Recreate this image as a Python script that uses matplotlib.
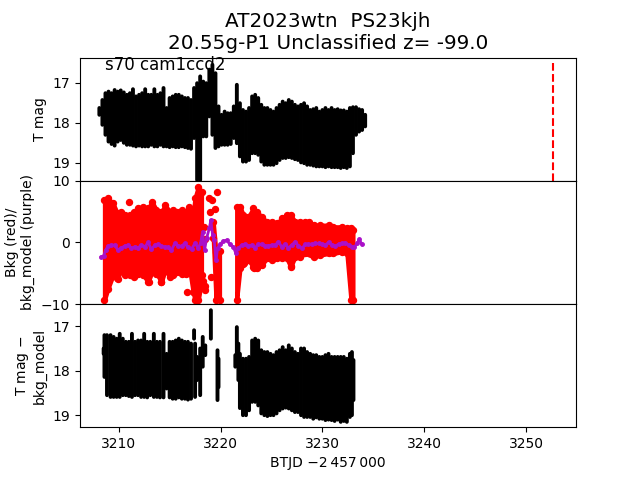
# plot.py
# Three stacked panels: T mag, background, background-subtracted T mag

import matplotlib
matplotlib.use('Agg')
import matplotlib.pyplot as plt
import numpy as np

# ── Top panel: T mag envelope per time step ────────────
t_mag = [3208.1, 3208.4, 3208.7, 3209.0, 3209.3, 3209.6, 3209.9, 3210.2, 3210.5, 3210.8,
         3211.1, 3211.4, 3211.7, 3212.0, 3212.3, 3212.6, 3212.9, 3213.2, 3213.5, 3213.8,
         3214.1, 3214.4, 3214.7, 3215.0, 3215.3, 3215.6, 3215.9, 3216.2, 3216.5, 3216.8,
         3217.1, 3217.4, 3217.7, 3218.0, 3218.3, 3218.6, 3218.9, 3219.2, 3219.5, 3219.8,
         3220.1, 3220.4, 3220.7, 3221.0, 3221.3, 3221.6, 3221.9, 3222.2, 3222.5, 3222.8,
         3223.1, 3223.4, 3223.7, 3224.0, 3224.3, 3224.6, 3224.9, 3225.2, 3225.5, 3225.8,
         3226.1, 3226.4, 3226.7, 3227.0, 3227.3, 3227.6, 3227.9, 3228.2, 3228.5, 3228.8,
         3229.1, 3229.4, 3229.7, 3230.0, 3230.3, 3230.6, 3230.9, 3231.2, 3231.5, 3231.8,
         3232.1, 3232.4, 3232.7, 3233.0, 3233.3, 3233.6, 3233.9, 3234.2]
mag_bright = [17.63, 17.43, 17.26, 17.22, 17.26, 17.18, 17.22, 17.19, 17.24, 17.30,
              17.26, 17.16, 17.34, 17.30, 17.26, 17.16, 17.30, 17.30, 17.16, 17.30,
              17.26, 17.13, 17.63, 17.38, 17.34, 17.30, 17.30, 17.34, 17.38, 17.38,
              17.43, 17.13, 17.01, 16.84, 16.97, 17.01, 16.67, 16.55, 16.76, 17.59,
              17.80, 17.72, 17.76, 17.76, 17.59, 17.05, 17.51, 17.68, 17.72, 17.63,
              17.34, 17.30, 17.38, 17.55, 17.63, 17.63, 17.68, 17.72, 17.63, 17.55,
              17.47, 17.51, 17.43, 17.47, 17.55, 17.59, 17.55, 17.51, 17.59, 17.68,
              17.66, 17.63, 17.72, 17.68, 17.63, 17.68, 17.63, 17.68, 17.66, 17.69,
              17.69, 17.72, 17.63, 17.61, 17.61, 17.66, 17.68, 17.80]
mag_faint = [17.80, 18.05, 18.30, 18.47, 18.53, 18.57, 18.47, 18.43, 18.50, 18.55,
             18.55, 18.57, 18.59, 18.57, 18.59, 18.59, 18.59, 18.55, 18.59, 18.59,
             18.55, 18.59, 18.59, 18.61, 18.59, 18.61, 18.61, 18.59, 18.61, 18.63,
             18.65, 18.38, 19.43, 19.43, 18.34, 18.34, 17.84, 18.30, 18.63, 18.59,
             18.55, 18.55, 18.55, 18.53, 18.38, 18.51, 18.84, 18.97, 18.97, 18.93,
             18.76, 18.76, 18.80, 18.97, 19.05, 19.05, 19.05, 19.05, 19.01, 18.93,
             18.88, 18.88, 18.86, 18.88, 18.91, 18.93, 18.99, 19.01, 19.05, 19.05,
             19.07, 19.09, 19.09, 19.09, 19.11, 19.09, 19.11, 19.11, 19.11, 19.13,
             19.11, 19.13, 19.09, 18.76, 18.30, 18.22, 18.18, 18.09]

# ── Middle panel: background envelope, outliers, model ─
t_bkg = [3208.6, 3208.95, 3209.45, 3209.87, 3210.26, 3210.65, 3211.08, 3211.47, 3211.9,
         3212.4, 3212.89, 3213.28, 3213.7, 3214.2, 3214.56, 3215.02, 3215.35, 3215.74,
         3216.17, 3216.6, 3216.92, 3217.3, 3217.48, 3217.81, 3218.13,
         3219.28, 3219.55, 3219.9,
         3221.58, 3221.91, 3222.24, 3222.73, 3223.22, 3223.55, 3224.04, 3224.53, 3225.02,
         3225.52, 3226.01, 3226.5, 3226.89, 3227.32, 3227.81, 3228.31, 3229.13, 3229.78,
         3230.6, 3231.09, 3231.91, 3232.4, 3232.8, 3233.0]
bkg_hi = [6.88, 7.15, 6.33, 4.71, 4.98, 4.44, 4.44, 4.98, 5.52, 5.79,
          5.52, 6.60, 5.25, 4.98, 6.06, 4.98, 5.25, 4.98, 5.25, 4.98,
          5.79, 4.44, 7.15, 9.05, 8.23,
          3.35, -1.50, -1.40,
          5.79, 5.79, 4.44, 4.17, 5.52, 4.98, 4.17, 3.35, 3.35,
          3.08, 3.90, 4.44, 4.44, 3.35, 3.35, 3.35, 2.81, 2.81,
          2.81, 2.54, 2.54, 2.27, 2.27, 2.00]
bkg_lo = [-9.38, -7.49, -5.32, -5.86, -4.50, -5.32, -5.32, -5.60, -5.05,
          -5.32, -6.40, -4.78, -5.05, -6.40, -4.50, -5.60, -5.32, -4.78,
          -5.05, -5.05, -3.96, -8.03, -9.38, -9.38, -6.40,
          0.65, -9.38, -9.38,
          -9.38, -4.23, -3.58, -2.88, -3.96, -4.23, -3.70, -2.60, -2.88,
          -2.60, -2.60, -2.60, -3.96, -2.34, -2.34, -1.80, -2.34, -2.07,
          -1.80, -1.80, -1.52, -1.80, -9.38, -9.38]
t_out = [3218.4, 3218.5, 3218.2, 3218.3, 3218.5, 3218.45, 3218.9, 3219.2, 3219.7, 3219.0, 3219.45, 3219.1,
         3222.3, 3223.3, 3226.9, 3228.7, 3216.7, 3214.2, 3213.0, 3209.9, 3211.06]
v_out = [2.5, 0.5, -5.3, -6.2, -7.0, -7.8, 7.15, 6.88, 8.23, 5.0, 5.5, -5.6,
         -3.4, -4.2, -3.9, 3.35, -8.0, -6.4, -6.4, -5.9, 6.6]

t_model = [3208.29, 3208.52, 3208.72, 3208.95, 3209.28, 3209.60, 3209.93, 3210.26, 3210.59, 3210.92,
           3211.25, 3211.57, 3211.90, 3212.23, 3212.56, 3212.89, 3213.21, 3213.54, 3213.87, 3214.20,
           3214.53, 3214.85, 3215.18, 3215.51, 3215.84, 3216.17, 3216.49, 3216.82, 3217.15, 3217.48,
           3217.81, 3218.04, 3218.23, 3218.43, 3218.63, 3218.89, 3219.05, 3219.22, 3219.38, 3219.55,
           3219.71, 3219.94, 3220.27, 3220.60, 3220.92, 3221.25, 3221.51, 3221.74, 3222.07, 3222.40,
           3222.73, 3223.06, 3223.38, 3223.71, 3224.04, 3224.37, 3224.70, 3225.02, 3225.35, 3225.68,
           3226.01, 3226.34, 3226.67, 3226.99, 3227.32, 3227.65, 3227.98, 3228.31, 3228.63, 3228.96,
           3229.29, 3229.62, 3229.95, 3230.27, 3230.60, 3230.93, 3231.26, 3231.59, 3231.91, 3232.24,
           3232.57, 3232.90, 3233.13, 3233.39, 3233.62, 3233.88]
v_model = [-2.34, -2.17, -1.25, -0.60, -0.44, -0.44, -1.25, -0.87, -0.60, -0.44,
           -0.98, -0.71, -0.87, -0.44, -0.71, -0.01, -1.14, -0.44, -0.28, -0.60,
           -0.71, -0.82, -1.25, -0.17, -0.60, -0.60, -0.17, -0.82, -1.09, -0.17,
           -0.87, -0.17, 1.73, -1.25, 0.64, 2.27, 3.62, 1.19, 0.37, -2.88,
           -0.98, -0.33, 0.21, 0.37, -0.33, -0.71, -1.80, -0.98, -0.44, -0.28,
           -0.60, -0.44, -0.87, -0.33, -0.28, -0.55, -0.55, -0.44, -0.44, 0.10,
           -0.71, -0.33, -0.87, -0.44, 0.10, -0.55, -0.98, -0.33, -0.28, -0.28,
           -0.17, -0.17, -0.28, -0.44, -0.01, -0.44, -0.60, -0.28, -0.17, -0.06,
           -0.44, -0.71, -0.82, -0.17, 0.48, -0.33]

# ── Bottom panel: T mag minus bkg_model envelope ───────
t_sub = [3208.52, 3208.6, 3208.85, 3209.2, 3209.5, 3209.8, 3210.1, 3210.4, 3210.7, 3211.0,
         3211.3, 3211.6, 3211.9, 3212.2, 3212.5, 3212.8, 3213.1, 3213.45, 3213.75, 3214.05,
         3214.4, 3214.7, 3215.0, 3215.3, 3215.6, 3215.9, 3216.2, 3216.5, 3216.8, 3217.1,
         3217.4, 3217.5, 3217.7, 3218.0, 3218.25, 3218.5, 3219.05, 3219.7, 3219.8,
         3221.45, 3221.6, 3221.75, 3221.9, 3222.2, 3222.5, 3222.8, 3223.1, 3223.4, 3223.7,
         3224.0, 3224.3, 3224.6, 3224.9, 3225.2, 3225.5, 3225.8, 3226.1, 3226.4, 3226.7,
         3227.0, 3227.3, 3227.6, 3227.9, 3228.2, 3228.5, 3228.8, 3229.1, 3229.4, 3229.7,
         3230.0, 3230.3, 3230.6, 3230.9, 3231.2, 3231.5, 3231.8, 3232.1, 3232.4, 3232.7,
         3232.9, 3233.05]
sub_bright = [17.50, 17.20, 17.20, 17.20, 17.24, 17.28, 17.17, 17.28, 17.35, 17.35,
              17.17, 17.35, 17.32, 17.32, 17.17, 17.35, 17.35, 17.17, 17.35, 17.35,
              17.17, 17.62, 17.35, 17.35, 17.32, 17.28, 17.32, 17.35, 17.35, 17.39,
              17.09, 17.39, 17.69, 17.50, 17.24, 17.43, 16.64, 17.54, 17.73,
              17.65, 17.02, 17.39, 17.62, 17.73, 17.73, 17.69, 17.32, 17.28, 17.32,
              17.54, 17.58, 17.58, 17.62, 17.65, 17.58, 17.54, 17.47, 17.54, 17.43,
              17.50, 17.58, 17.62, 17.50, 17.50, 17.58, 17.62, 17.65, 17.65, 17.69,
              17.69, 17.65, 17.62, 17.69, 17.69, 17.69, 17.69, 17.69, 17.73, 17.62,
              17.58, 17.76]
sub_faint = [17.62, 18.14, 18.55, 18.59, 18.59, 18.59, 18.59, 18.55, 18.55, 18.57,
             18.59, 18.55, 18.55, 18.59, 18.59, 18.60, 18.55, 18.59, 18.59, 18.60,
             18.60, 18.40, 18.60, 18.63, 18.63, 18.60, 18.63, 18.63, 18.65, 18.63,
             17.28, 18.59, 18.21, 18.55, 17.91, 17.65, 17.28, 18.66, 18.37,
             17.91, 17.69, 18.21, 18.84, 19.00, 19.00, 18.89, 18.70, 18.70, 18.78,
             18.96, 19.00, 19.02, 19.00, 19.00, 18.96, 18.89, 18.85, 18.83, 18.85,
             18.89, 18.93, 18.93, 19.00, 19.04, 19.04, 19.04, 19.08, 19.05, 19.08,
             19.08, 19.11, 19.10, 19.11, 19.13, 19.10, 19.15, 19.13, 19.15, 19.04,
             19.00, 18.66]

# reference time marked in the top panel
t_ref = 3252.66


def band(ax, t, bright, faint):
    # error bars overlap into a solid band, snapping off or they leave white slits
    bright = np.array(bright)
    faint = np.array(faint)
    eb = ax.errorbar(t, (bright + faint) / 2, yerr=(faint - bright) / 2, fmt='none',
                     ecolor='k', elinewidth=2.8)
    eb[2][0].set_snap(False)
    eb[2][0].set_capstyle('round')


fig, axes = plt.subplots(3, 1, sharex=True, figsize=(6.4, 4.8))
plt.subplots_adjust(hspace=0)
ax1, ax2, ax3 = axes

# top panel
band(ax1, t_mag, mag_bright, mag_faint)
ax1.plot([t_ref, t_ref], [16.5, 20], color='r', ls='--', lw=1.5)
ax1.set_ylim(19.45, 16.37)
ax1.set_yticks([17, 18, 19])
ax1.set_ylabel('T mag')
ax1.set_title('AT2023wtn  PS23kjh\n20.55g-P1 Unclassified z= -99.0', fontsize=14.4)
ax1.text(3208.7, 16.68, 's70 cam1ccd2', fontsize=12)

# middle panel
lo = np.array(bkg_lo)
hi = np.array(bkg_hi)
for i in range(len(t_bkg) - 1):
    # columns next to each other fill up, columns across the gaps stay apart
    if t_bkg[i + 1] - t_bkg[i] < 1.0:
        ax2.fill_between([t_bkg[i], t_bkg[i + 1]], [lo[i], lo[i + 1]], [hi[i], hi[i + 1]],
                         color='r', lw=3)
ax2.plot(t_bkg, hi, 'o', color='r', ms=4.3)
ax2.plot(t_bkg, lo, 'o', color='r', ms=4.3)
ax2.plot(t_out, v_out, 'o', color='r', ms=4.3)
ax2.plot(t_model, v_model, '-o', color='#aa10c8', ms=2.5, lw=2)
ax2.set_ylim(-10, 10)
ax2.set_yticks([-10, 0, 10])
ax2.set_ylabel('Bkg (red)/\nbkg_model (purple)')

# bottom panel
band(ax3, t_sub, sub_bright, sub_faint)
ax3.set_ylim(19.27, 16.5)
ax3.set_yticks([17, 18, 19])
ax3.set_ylabel('T mag $-$\nbkg_model')
ax3.set_xlim(3206.2, 3254.9)
ax3.set_xticks([3210, 3220, 3230, 3240, 3250])
ax3.set_xlabel('BTJD \u22122\u2009457\u2009000')

for ax in (ax1, ax2):
    ax.tick_params(axis='x', length=0, labelbottom=False)

plt.savefig('out.png', dpi=100)
